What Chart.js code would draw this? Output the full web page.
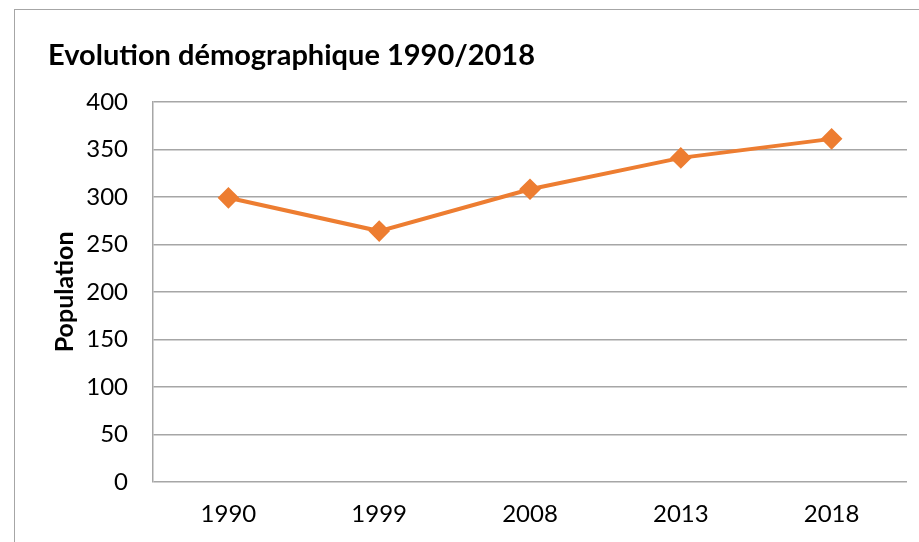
<!DOCTYPE html>
<html>
<head>
<meta charset="utf-8">
<script src="https://cdn.jsdelivr.net/npm/chart.js@4"></script>
<style>
  html, body { margin: 0; padding: 0; background: #fff; overflow: hidden; }
  #frame {
    position: absolute; left: 14px; top: 9px;
    width: 1000px; height: 700px;
    border-left: 1.5px solid #a6a6a6;
    border-top: 1.5px solid #a6a6a6;
  }
  #wrap { position: absolute; left: 0; top: 0; width: 919px; height: 542px; }
</style>
</head>
<body>
<div id="frame"></div>
<div id="wrap"><canvas id="popChart"></canvas></div>
<script>
const years = ["1990", "1999", "2008", "2013", "2018"];
const population = [299, 264, 308, 341, 361];
const yTicks = { min: 0, max: 400, step: 50 };

const gridColor = "#a6a6a6";
const orange = "#ED7D31";
const fontFamily = "Lato, 'Open Sans', sans-serif";

const ctx = document.getElementById("popChart").getContext("2d");
new Chart(ctx, {
  type: "line",
  data: {
    labels: years,
    datasets: [{
      label: "Population",
      data: population,
      borderColor: orange,
      backgroundColor: orange,
      borderWidth: 4,
      pointStyle: "rectRot",
      pointRadius: 8,
      pointHoverRadius: 8,
      tension: 0
    }]
  },
  options: {
    responsive: true,
    maintainAspectRatio: false,
    animation: false,
    layout: { padding: { left: 48, right: 10, top: 38, bottom: 0 } },
    plugins: {
      legend: { display: false },
      tooltip: { enabled: false },
      title: {
        display: true,
        text: "Evolution démographique 1990/2018",
        align: "start",
        color: "#000",
        font: { family: fontFamily, size: 29, weight: "bold" },
        padding: { top: 0, bottom: 29 }
      }
    },
    scales: {
      x: {
        offset: true,
        grid: { display: false, drawTicks: false },
        border: { display: false },
        ticks: {
          color: "#000",
          padding: 18,
          maxRotation: 0,
          font: { family: fontFamily, size: 24 }
        },
        afterFit: s => { s.height = 60; }
      },
      y: {
        min: yTicks.min,
        max: yTicks.max,
        grid: { color: gridColor, lineWidth: 1.5, drawTicks: false },
        border: { display: true, color: gridColor, width: 1.5 },
        ticks: {
          stepSize: yTicks.step,
          color: "#000",
          padding: 25,
          font: { family: fontFamily, size: 24 }
        },
        title: {
          display: true,
          text: "Population",
          color: "#000",
          font: { family: fontFamily, size: 25, weight: "bold" },
          padding: { top: 2, bottom: 0 }
        },
        afterFit: s => { s.width = 105; }
      }
    }
  }
});
</script>
</body>
</html>
